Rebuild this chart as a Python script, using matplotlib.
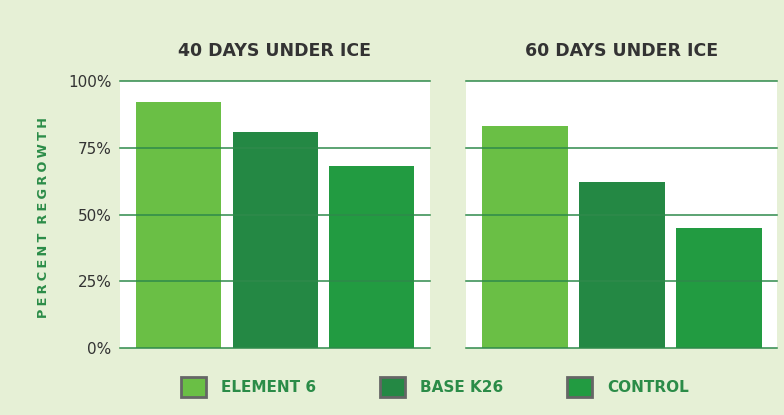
import numpy as np
import matplotlib.pyplot as plt
from matplotlib.patches import Patch

panels = ["40 DAYS UNDER ICE", "60 DAYS UNDER ICE"]
products = ["ELEMENT 6", "BASE K26", "CONTROL"]
regrowth_40 = [92, 81, 68]
regrowth_60 = [83, 62, 45]
yticks = [0, 25, 50, 75, 100]

bg = '#e6f0d6'
bar_colors = ['#6abf45', '#248844', '#229b41']
grid_green = '#2f8a4b'
text_green = '#2b8c48'
dark = '#333333'

fig = plt.figure(figsize=(7.84, 4.15), dpi=100, facecolor=bg)
ax1 = fig.add_axes([0.153, 0.1614, 0.395, 0.6434])
ax2 = fig.add_axes([0.5944, 0.1614, 0.3967, 0.6434])

x = np.arange(len(products))
for ax, vals, title in [(ax1, regrowth_40, panels[0]), (ax2, regrowth_60, panels[1])]:
    ax.set_facecolor('white')
    ax.bar(x, vals, width=0.88, color=bar_colors, zorder=2)
    ax.set_xlim(-0.61, 2.6)
    ax.set_ylim(0, 100)
    ax.set_yticks(yticks)
    # lines sit on top of the bars, like the original
    for t in yticks:
        ax.axhline(t, color=grid_green, lw=1.1, zorder=3, clip_on=False)
    for s in ax.spines.values():
        s.set_visible(False)
    ax.set_xticks([])
    ax.tick_params(axis='y', length=0, pad=6)
    ax.set_title(title, fontsize=12.5, fontweight='heavy', color=dark,
                 family='DejaVu Sans', pad=18)

ax1.set_yticklabels([f"{t}%" for t in yticks], fontsize=11, color=dark,
                    family=['Liberation Sans Narrow', 'DejaVu Sans'])
ax2.set_yticklabels([])
# letter-spaced axis label
ylab = "\u2005".join("PERCENT") + "  " + "\u2005".join("REGROWTH")
ax1.set_ylabel(ylab, fontsize=9.3, color=text_green, fontweight='bold')
ax1.yaxis.set_label_coords(-0.225, 0.49)

handles = [Patch(facecolor=c, edgecolor='#666666', linewidth=2) for c in bar_colors]
leg = fig.legend(handles, products, loc='center', bbox_to_anchor=(0.555, 0.068), ncol=3,
                 frameon=False, handlelength=1.6, handleheight=1.6, handletextpad=1.0,
                 columnspacing=4.2, prop={'size': 11, 'weight': 'bold'})
for t in leg.get_texts():
    t.set_color(text_green)

fig.savefig('out.png', dpi=100, facecolor=bg)
